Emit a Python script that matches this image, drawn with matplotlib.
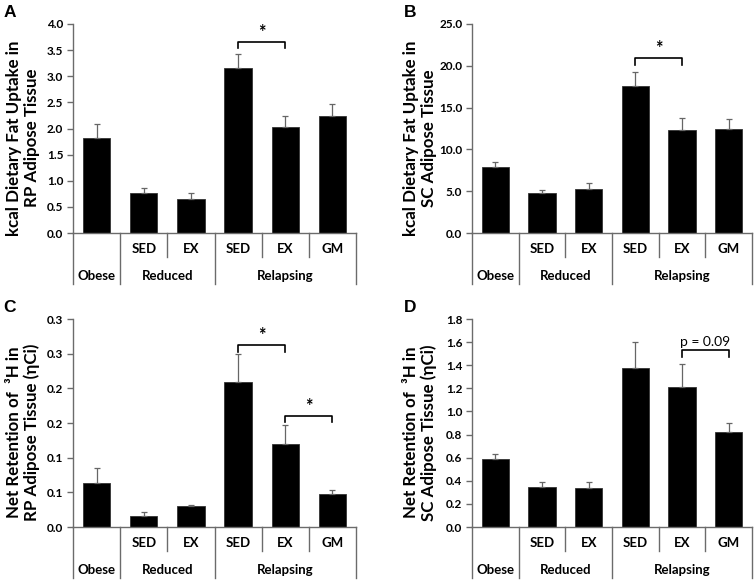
import matplotlib
matplotlib.use('Agg')
import matplotlib.pyplot as plt
from matplotlib.transforms import blended_transform_factory

# ---------------- data ----------------
groups = ['Obese', 'Reduced', 'Relapsing']
group_centers = [0, 1.5, 4]
subgroups = ['', 'SED', 'EX', 'SED', 'EX', 'GM']

a_vals = [1.82, 0.77, 0.66, 3.15, 2.03, 2.23]
a_err = [0.27, 0.09, 0.11, 0.28, 0.20, 0.24]
b_vals = [7.9, 4.8, 5.3, 17.6, 12.3, 12.5]
b_err = [0.6, 0.4, 0.7, 1.6, 1.4, 1.1]
c_vals = [0.064, 0.016, 0.030, 0.209, 0.119, 0.047]
c_err = [0.021, 0.006, 0.002, 0.040, 0.028, 0.007]
d_vals = [0.59, 0.35, 0.34, 1.38, 1.21, 0.82]
d_err = [0.04, 0.04, 0.05, 0.22, 0.20, 0.08]

a_ticks = [0, 0.5, 1.0, 1.5, 2.0, 2.5, 3.0, 3.5, 4.0]
a_ticklabels = ['0.0', '0.5', '1.0', '1.5', '2.0', '2.5', '3.0', '3.5', '4.0']
b_ticks = [0, 5, 10, 15, 20, 25]
b_ticklabels = ['0.0', '5.0', '10.0', '15.0', '20.0', '25.0']
c_ticks = [0, 0.05, 0.10, 0.15, 0.20, 0.25, 0.30]
c_ticklabels = ['0.0', '0.1', '0.1', '0.2', '0.2', '0.3', '0.3']
d_ticks = [0, 0.2, 0.4, 0.6, 0.8, 1.0, 1.2, 1.4, 1.6, 1.8]
d_ticklabels = ['0.0', '0.2', '0.4', '0.6', '0.8', '1.0', '1.2', '1.4', '1.6', '1.8']

a_label = 'kcal Dietary Fat Uptake in\nRP Adipose Tissue'
b_label = 'kcal Dietary Fat Uptake in\nSC Adipose Tissue'
c_label = 'Net Retention of  \u00b3H in\nRP Adipose Tissue (\u03b7Ci)'
d_label = 'Net Retention of  \u00b3H in\nSC Adipose Tissue (\u03b7Ci)'

# brackets: (x1, x2, y_top, drop, text, bold)
a_brackets = [(3, 4, 3.66, 0.12, '*', True)]
b_brackets = [(3, 4, 20.9, 0.8, '*', True)]
c_brackets = [(3, 4, 0.263, 0.010, '*', True), (4, 5, 0.160, 0.009, '*', True)]
d_brackets = [(4, 5, 1.53, 0.06, 'p = 0.09', False)]

FONT = ['Lato', 'DejaVu Sans']
plt.rcParams['font.family'] = FONT
AXC = '#6b6b6b'

W, H = 755, 583
fig = plt.figure(figsize=(W / 100, H / 100), dpi=100)


def px_axes(left, top, right, bottom):
    return fig.add_axes([left / W, 1 - bottom / H, (right - left) / W, (bottom - top) / H])


def panel(ax, vals, errs, ticks, ticklabels, ylabel, brackets, letter, label_x):
    x = list(range(len(vals)))
    ax.bar(x, vals, width=0.58, color='black', edgecolor='#333333', linewidth=0.6, zorder=2)
    ax.errorbar(x, vals, yerr=[[0] * len(errs), errs], fmt='none', ecolor='#666666',
                elinewidth=0.9, capsize=2.5, capthick=0.9, zorder=3)
    ax.set_xlim(-0.5, 5.5)
    ax.set_ylim(ticks[0], ticks[-1])
    ax.set_yticks(ticks)
    ax.set_yticklabels(ticklabels, fontsize=8.5, fontweight='bold')
    ax.set_xticks([])
    for s in ['top', 'right']:
        ax.spines[s].set_visible(False)
    for s in ['left', 'bottom']:
        ax.spines[s].set_color(AXC)
        ax.spines[s].set_linewidth(1.0)
    ax.tick_params(axis='y', direction='out', length=4, width=1.0, color=AXC, pad=3)
    ax.set_ylabel(ylabel, fontsize=12.2, fontweight='bold', linespacing=1.15,
                  va='center', ha='center')
    ax.yaxis.set_label_coords(label_x, 0.455)

    tr = blended_transform_factory(ax.transData, ax.transAxes)
    full_b = -0.245
    half_b = -0.115
    for xs in [-0.5, 0.5, 2.5, 5.5]:
        ax.plot([xs, xs], [0, full_b], transform=tr, color=AXC, lw=1.0, clip_on=False)
    for xs in [1.5, 3.5, 4.5]:
        ax.plot([xs, xs], [0, half_b], transform=tr, color=AXC, lw=1.0, clip_on=False)
    for i, s in enumerate(subgroups):
        if s:
            ax.text(i, -0.075, s, transform=tr, ha='center', va='center',
                    fontsize=9.5, fontweight='bold')
    for g, c in zip(groups, group_centers):
        ax.text(c, -0.205, g, transform=tr, ha='center', va='center',
                fontsize=9.5, fontweight='bold')

    span = ticks[-1] - ticks[0]
    for x1, x2, yt, drop, txt, bold in brackets:
        ax.plot([x1, x1, x2, x2], [yt - drop, yt, yt, yt - drop], color='black',
                lw=1.2, zorder=4, solid_joinstyle='round')
        if bold:
            ax.text((x1 + x2) / 2, yt + span * 0.005, txt, ha='center', va='bottom',
                    fontsize=13, fontweight='bold')
        else:
            ax.text((x1 + x2) / 2, yt + span * 0.012, txt, ha='center', va='bottom',
                    fontsize=10, fontweight='normal')

    ax.text(-0.245, 1.02, letter, transform=ax.transAxes, fontsize=12.5,
            fontweight='bold', family=['Liberation Sans', 'DejaVu Sans'], ha='left', va='bottom')


axA = px_axes(73, 24, 356, 233)
axB = px_axes(472, 24, 752, 233)
axC = px_axes(73, 319, 356, 527)
axD = px_axes(472, 319, 752, 527)

panel(axA, a_vals, a_err, a_ticks, a_ticklabels, a_label, a_brackets, 'A', -0.177)
panel(axB, b_vals, b_err, b_ticks, b_ticklabels, b_label, b_brackets, 'B', -0.186)
panel(axC, c_vals, c_err, c_ticks, c_ticklabels, c_label, c_brackets, 'C', -0.177)
panel(axD, d_vals, d_err, d_ticks, d_ticklabels, d_label, d_brackets, 'D', -0.186)

fig.savefig('out.png', dpi=100)
